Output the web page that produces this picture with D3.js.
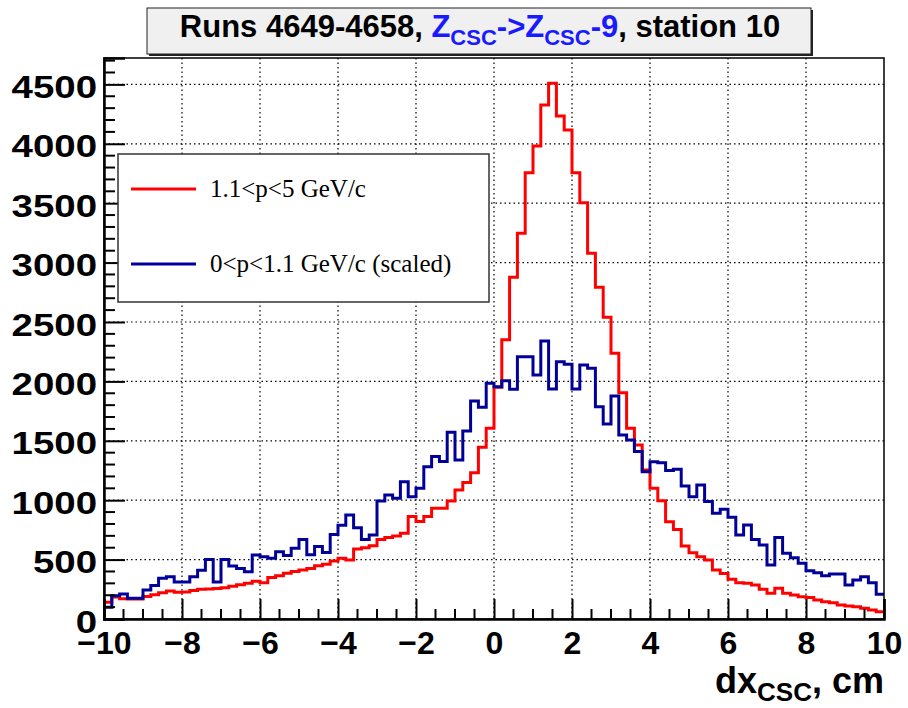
<!DOCTYPE html>
<html>
<head>
<meta charset="utf-8">
<script src="https://cdn.jsdelivr.net/npm/d3@7"></script>
<style>
  body { margin: 0; background: #fff; }
</style>
</head>
<body>
<svg id="chart" width="908" height="708" font-family="'Liberation Sans', Arial, Helvetica, sans-serif"></svg>
<script>
// histogram binning: 100 bins from -10 to 10 cm
const xMin = -10, xMax = 10, nBins = 100;

// 1.1<p<5 GeV/c (red)
const highP = [
  140, 185, 170, 168, 168, 190, 205, 220, 235, 225,
  228, 240, 250, 252, 257, 262, 275, 288, 300, 318,
  305, 350, 365, 385, 400, 412, 426, 449, 460, 488,
  511, 497, 589, 600, 617, 670, 685, 699, 721, 862,
  820, 862, 932, 932, 993, 1086, 1148, 1232, 1445, 1605,
  1950, 2350, 2876, 3246, 3757, 3981, 4327, 4509, 4234, 4116,
  3757, 3504, 3078, 2792, 2539, 2236, 1905, 1605, 1465, 1254,
  1100, 996, 819, 754, 614, 558, 525, 497, 413, 384,
  334, 306, 300, 286, 250, 216, 258, 216, 202, 188,
  180, 160, 146, 137, 118, 110, 104, 90, 76, 62
];

// 0<p<1.1 GeV/c, scaled (blue)
const lowP = [
  98, 196, 210, 174, 174, 244, 283, 342, 356, 312,
  312, 356, 410, 500, 312, 500, 446, 426, 398, 539,
  525, 511, 567, 535, 595, 670, 540, 610, 560, 712,
  790, 876, 769, 670, 707, 993, 1044, 1016, 1156, 1030,
  1100, 1282, 1367, 1325, 1571, 1339, 1582, 1835, 1782, 1985,
  1955, 2006, 1933, 2208, 2208, 2053, 2340, 1936, 2166, 2144,
  1936, 2138, 2110, 1787, 1641, 1877, 1549, 1507, 1409, 1240,
  1324, 1316, 1249, 1260, 1120, 1030, 1128, 988, 890, 923,
  856, 707, 791, 670, 623, 455, 687, 553, 516, 469,
  407, 390, 365, 379, 379, 286, 328, 356, 306, 208
];

const xTicks = [-10, -8, -6, -4, -2, 0, 2, 4, 6, 8, 10];
const yTicks = [0, 500, 1000, 1500, 2000, 2500, 3000, 3500, 4000, 4500];
const yTop = 4722;

const svg = d3.select("#chart");
const margin = { top: 58, right: 24, bottom: 89, left: 104 };
const width = 908 - margin.left - margin.right;
const height = 708 - margin.top - margin.bottom;

const x = d3.scaleLinear().domain([xMin, xMax]).range([0, width]);
const y = d3.scaleLinear().domain([0, yTop]).range([height, 0]);

const chart = svg.append("g").attr("transform", `translate(${margin.left},${margin.top})`);

// grid
const gridX = xTicks.filter(d => d > xMin && d < xMax);
const gridY = yTicks.filter(d => d > 0);
chart.append("g").selectAll("line").data(gridX).join("line")
  .attr("x1", d => x(d)).attr("x2", d => x(d)).attr("y1", 0).attr("y2", height)
  .attr("stroke", "#000").attr("stroke-width", 1.2).attr("stroke-dasharray", "1.5,3");
chart.append("g").selectAll("line").data(gridY).join("line")
  .attr("y1", d => y(d)).attr("y2", d => y(d)).attr("x1", 0).attr("x2", width)
  .attr("stroke", "#000").attr("stroke-width", 1.2).attr("stroke-dasharray", "1.5,3");

// histograms
const binW = (xMax - xMin) / nBins;
function stepPath(vals) {
  let p = "";
  vals.forEach((v, i) => {
    const x0 = x(xMin + i * binW), x1 = x(xMin + (i + 1) * binW);
    p += (i === 0 ? `M${x0},${y(v)}` : `V${y(v)}`) + `H${x1}`;
  });
  return p;
}
svg.append("defs").append("clipPath").attr("id", "plotclip")
  .append("rect").attr("x", 0).attr("y", 0).attr("width", width).attr("height", height);

const hists = chart.append("g").attr("clip-path", "url(#plotclip)");
hists.append("path").attr("d", stepPath(highP))
  .attr("fill", "none").attr("stroke", "#ff0000").attr("stroke-width", 3);
hists.append("path").attr("d", stepPath(lowP))
  .attr("fill", "none").attr("stroke", "#000099").attr("stroke-width", 3);

// frame
chart.append("rect").attr("width", width).attr("height", height)
  .attr("fill", "none").attr("stroke", "#000").attr("stroke-width", 1.5);

// axes
const xAxis = chart.append("g").attr("transform", `translate(0,${height})`)
  .call(d3.axisBottom(x).tickValues(xTicks).tickSize(-20)
    .tickFormat(d => d < 0 ? "\u2212" + Math.abs(d) : d));
xAxis.select(".domain").attr("stroke-width", 2.5);
xAxis.selectAll(".tick line").attr("stroke-width", 2);
xAxis.selectAll("text").attr("font-size", 32).attr("font-weight", "bold").attr("fill", "#000")
  .attr("font-family", null).attr("dy", "0.72em").attr("y", 12);
const xMinor = d3.range(xMin, xMax + 0.01, 0.5).filter(d => !xTicks.includes(d));
xAxis.append("g").selectAll("line").data(xMinor).join("line")
  .attr("x1", d => x(d)).attr("x2", d => x(d)).attr("y1", 0).attr("y2", -10)
  .attr("stroke", "#000").attr("stroke-width", 2);

const yAxis = chart.append("g")
  .call(d3.axisLeft(y).tickValues(yTicks).tickSize(-21).tickFormat(d3.format("d")));
yAxis.select(".domain").attr("stroke-width", 2.5);
yAxis.selectAll(".tick line").attr("stroke-width", 2);
const yScaleX = 1.24;
yAxis.selectAll("text").attr("font-size", 31).attr("font-weight", "bold").attr("fill", "#000")
  .attr("font-family", null).attr("x", -7 / yScaleX).attr("dy", "0.42em")
  .attr("transform", `scale(${yScaleX},1)`);
const yMinor = d3.range(0, yTop, 100).filter(d => !yTicks.includes(d));
yAxis.append("g").selectAll("line").data(yMinor).join("line")
  .attr("y1", d => y(d)).attr("y2", d => y(d)).attr("x1", 0).attr("x2", 11)
  .attr("stroke", "#000").attr("stroke-width", 2);

// x-axis title
const xt = svg.append("text").attr("x", 884).attr("y", 693)
  .attr("text-anchor", "end").attr("font-weight", "bold").attr("font-size", 36);
xt.append("tspan").text("dx");
xt.append("tspan").attr("font-size", 26).attr("dy", 8).text("CSC");
xt.append("tspan").attr("dy", -8).text(", cm");

// title box
svg.append("rect").attr("x", 149).attr("y", 10).attr("width", 664).attr("height", 46).attr("fill", "#222");
svg.append("rect").attr("x", 147).attr("y", 8).attr("width", 664).attr("height", 46)
  .attr("fill", "#f0f0f0").attr("stroke", "#222").attr("stroke-width", 1);
const tt = svg.append("text").attr("x", 480).attr("y", 37)
  .attr("text-anchor", "middle").attr("font-weight", "bold").attr("font-size", 31);
tt.append("tspan").text("Runs 4649-4658, ");
tt.append("tspan").attr("fill", "#1a1aff").text("Z");
tt.append("tspan").attr("fill", "#1a1aff").attr("font-size", 22).attr("dy", 8).text("CSC");
tt.append("tspan").attr("fill", "#1a1aff").attr("dy", -8).text("->Z");
tt.append("tspan").attr("fill", "#1a1aff").attr("font-size", 22).attr("dy", 8).text("CSC");
tt.append("tspan").attr("fill", "#1a1aff").attr("dy", -8).text("-9");
tt.append("tspan").text(", station 10");

// legend
const legendItems = [
  { label: "1.1<p<5 GeV/c", color: "#ff0000", y: 189 },
  { label: "0<p<1.1 GeV/c (scaled)", color: "#000099", y: 264 }
];
svg.append("rect").attr("x", 118).attr("y", 154).attr("width", 371).attr("height", 148)
  .attr("fill", "#fff").attr("stroke", "#333").attr("stroke-width", 1.5);
const lg = svg.append("g").selectAll("g").data(legendItems).join("g");
lg.append("line").attr("x1", 131).attr("x2", 196).attr("y1", d => d.y).attr("y2", d => d.y)
  .attr("stroke", d => d.color).attr("stroke-width", 3);
lg.append("text").attr("x", 210).attr("y", d => d.y + 8)
  .attr("font-family", "'Liberation Serif', 'Times New Roman', serif")
  .attr("font-size", 25).text(d => d.label);
</script>
</body>
</html>
